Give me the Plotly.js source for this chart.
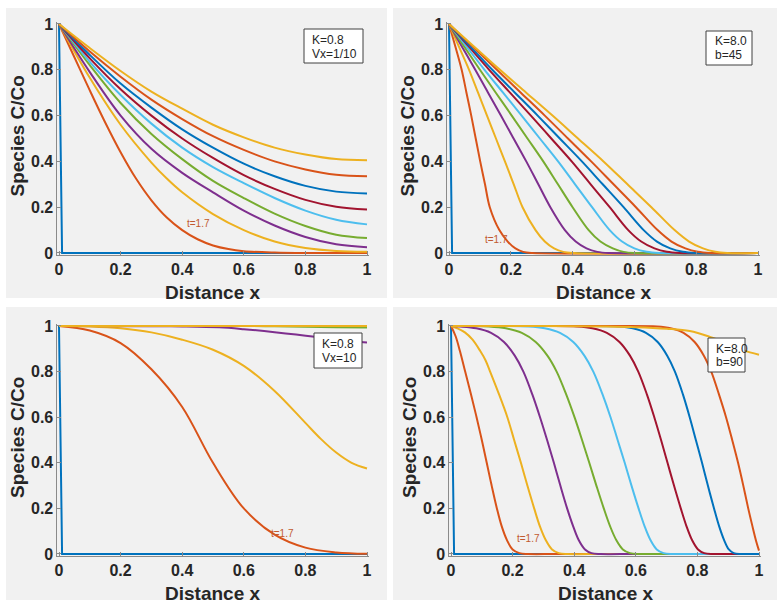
<!DOCTYPE html>
<html>
<head>
<meta charset="utf-8">
<script src="https://cdn.plot.ly/plotly-3.0.1.min.js"></script>
<style>html,body{margin:0;padding:0;background:#fff;}#chart{width:781px;height:609px;}</style>
</head>
<body>
<div id="chart"></div>
<script>
// ---------- DATA ----------
const tickVals = [0, 0.2, 0.4, 0.6, 0.8, 1];
const tickText = ['0', '0.2', '0.4', '0.6', '0.8', '1'];
const timeLabel = 't=1.7';

// Panel 1: K=0.8, Vx=1/10
const p1_x = [
  [0, 0.01, 1],
  [0, 0.05, 0.1, 0.15, 0.2, 0.25, 0.3, 0.35, 0.4, 0.45, 0.5, 0.55, 0.6, 0.7, 0.8, 1],
  [0, 0.1, 0.2, 0.3, 0.35, 0.4, 0.5, 0.6, 0.7, 0.8, 0.9, 1],
  [0, 0.1, 0.2, 0.3, 0.4, 0.5, 0.6, 0.7, 0.8, 0.9, 1],
  [0, 0.1, 0.2, 0.3, 0.4, 0.5, 0.6, 0.7, 0.8, 0.9, 1],
  [0, 0.1, 0.2, 0.3, 0.4, 0.5, 0.6, 0.7, 0.8, 0.9, 1],
  [0, 0.1, 0.2, 0.3, 0.4, 0.5, 0.6, 0.7, 0.8, 0.9, 1],
  [0, 0.1, 0.2, 0.3, 0.4, 0.5, 0.6, 0.7, 0.8, 0.9, 1],
  [0, 0.1, 0.2, 0.3, 0.4, 0.5, 0.6, 0.7, 0.8, 0.9, 1],
  [0, 0.1, 0.2, 0.3, 0.4, 0.5, 0.6, 0.7, 0.8, 0.9, 1]
];
const p1_y = [
  [1, 0, 0],
  [1, 0.855, 0.71, 0.57, 0.44, 0.325, 0.23, 0.155, 0.1, 0.06, 0.033, 0.017, 0.008, 0.002, 0, 0],
  [1, 0.765, 0.56, 0.395, 0.325, 0.265, 0.17, 0.1, 0.05, 0.022, 0.009, 0.005],
  [1, 0.79, 0.6, 0.455, 0.35, 0.265, 0.185, 0.12, 0.07, 0.038, 0.025],
  [1, 0.82, 0.655, 0.52, 0.41, 0.315, 0.24, 0.172, 0.118, 0.08, 0.065],
  [1, 0.835, 0.69, 0.565, 0.46, 0.375, 0.305, 0.24, 0.185, 0.145, 0.125],
  [1, 0.85, 0.715, 0.6, 0.5, 0.415, 0.34, 0.28, 0.232, 0.202, 0.19],
  [1, 0.865, 0.74, 0.635, 0.54, 0.46, 0.39, 0.335, 0.293, 0.268, 0.26],
  [1, 0.88, 0.77, 0.67, 0.585, 0.51, 0.45, 0.4, 0.365, 0.342, 0.335],
  [1, 0.895, 0.795, 0.705, 0.63, 0.56, 0.505, 0.46, 0.43, 0.41, 0.405]
];

// Panel 2: K=8.0, b=45  (x where each curve crosses the levels in p2_levels)
const p2_levels = [1, 0.9, 0.8, 0.7, 0.6, 0.5, 0.4, 0.3, 0.2, 0.1, 0.05, 0.02, 0.005, 0, 0];
const p2_t0_y = [1, 0, 0];
const p2_x = [
  [0, 0.01, 1],
  [0, 0.021, 0.041, 0.0565, 0.072, 0.0865, 0.101, 0.1165, 0.132, 0.163, 0.19, 0.215, 0.24, 0.27, 1],
  [0, 0.0325, 0.065, 0.094, 0.123, 0.152, 0.181, 0.2095, 0.238, 0.28, 0.31, 0.34, 0.37, 0.405, 1],
  [0, 0.0425, 0.085, 0.1265, 0.168, 0.209, 0.25, 0.289, 0.328, 0.375, 0.41, 0.445, 0.48, 0.52, 1],
  [0, 0.05, 0.1, 0.1515, 0.203, 0.254, 0.305, 0.3525, 0.4, 0.452, 0.49, 0.53, 0.565, 0.605, 1],
  [0, 0.0575, 0.115, 0.175, 0.235, 0.294, 0.353, 0.408, 0.463, 0.52, 0.56, 0.6, 0.64, 0.68, 1],
  [0, 0.065, 0.13, 0.1975, 0.265, 0.331, 0.397, 0.4585, 0.52, 0.58, 0.622, 0.665, 0.705, 0.745, 1],
  [0, 0.07, 0.14, 0.2135, 0.287, 0.3585, 0.43, 0.4975, 0.565, 0.63, 0.673, 0.716, 0.757, 0.8, 1],
  [0, 0.0775, 0.155, 0.2325, 0.31, 0.385, 0.46, 0.5325, 0.605, 0.675, 0.72, 0.765, 0.805, 0.845, 1],
  [0, 0.0825, 0.165, 0.25, 0.335, 0.4175, 0.5, 0.5775, 0.655, 0.73, 0.777, 0.822, 0.862, 0.9, 1]
];

// Panel 3: K=0.8, Vx=10
const p3_x = [
  [0, 0.01, 1],
  [0, 0.1, 0.2, 0.3, 0.4, 0.5, 0.6, 0.7, 0.8, 0.9, 1],
  [0, 0.1, 0.2, 0.3, 0.4, 0.5, 0.6, 0.7, 0.8, 0.85, 0.9, 0.95, 1],
  [0, 0.3, 0.4, 0.52, 0.6, 0.7, 0.83, 0.9, 1],
  [0, 0.6, 0.7, 0.8, 0.9, 1],
  [0, 1],
  [0, 1],
  [0, 1],
  [0, 1],
  [0, 1]
];
const p3_y = [
  [1, 0, 0],
  [1, 0.98, 0.925, 0.81, 0.645, 0.4, 0.2, 0.085, 0.028, 0.007, 0.001],
  [1, 0.998, 0.99, 0.972, 0.94, 0.896, 0.825, 0.715, 0.575, 0.505, 0.445, 0.4, 0.375],
  [1, 0.999, 0.998, 0.994, 0.986, 0.973, 0.953, 0.94, 0.928],
  [1, 1, 0.999, 0.997, 0.995, 0.993],
  [1, 1],
  [1, 1],
  [1, 1],
  [1, 1],
  [1, 1]
];

// Panel 4: K=8.0, b=90
const p4_x = [
  [0, 0.01, 1],
  [0, 0.015, 0.029, 0.046, 0.065, 0.083, 0.1, 0.116, 0.132, 0.149, 0.165, 0.182, 0.2, 0.222, 0.25, 0.35, 1],
  [0, 0.02, 0.045, 0.07, 0.095, 0.112, 0.127, 0.156, 0.183, 0.205, 0.227, 0.248, 0.27, 0.289, 0.308, 0.328, 0.35, 0.38, 0.5, 1],
  [0, 0.03, 0.082, 0.13, 0.172, 0.207, 0.235, 0.264, 0.289, 0.312, 0.334, 0.355, 0.377, 0.397, 0.415, 0.435, 0.456, 0.486, 0.6, 1],
  [0, 0.06, 0.123, 0.178, 0.23, 0.275, 0.313, 0.343, 0.374, 0.401, 0.4255, 0.449, 0.472, 0.496, 0.517, 0.537, 0.558, 0.581, 0.613, 0.7, 1],
  [0, 0.15, 0.251, 0.304, 0.354, 0.397, 0.433, 0.462, 0.492, 0.518, 0.541, 0.564, 0.586, 0.609, 0.629, 0.648, 0.668, 0.69, 0.721, 0.8, 1],
  [0, 0.3, 0.41, 0.459, 0.506, 0.547, 0.581, 0.608, 0.636, 0.66, 0.682, 0.703, 0.724, 0.746, 0.765, 0.783, 0.802, 0.822, 0.851, 0.9, 1],
  [0, 0.4, 0.544, 0.59, 0.633, 0.671, 0.702, 0.727, 0.753, 0.775, 0.795, 0.815, 0.834, 0.854, 0.871, 0.887, 0.902, 0.918, 0.94, 0.97, 1],
  [0, 0.5, 0.669, 0.713, 0.755, 0.791, 0.821, 0.845, 0.87, 0.893, 0.913, 0.932, 0.949, 0.965, 0.979, 0.991, 1],
  [0, 0.3, 0.5, 0.6, 0.7, 0.775, 0.835, 0.9, 0.95, 1]
];
const p4_y = [
  [1, 0, 0],
  [1, 0.955, 0.89, 0.8, 0.7, 0.6, 0.5, 0.4, 0.3, 0.2, 0.12, 0.06, 0.02, 0.004, 0, 0, 0],
  [1, 0.99, 0.972, 0.94, 0.89, 0.85, 0.8, 0.7, 0.6, 0.5, 0.4, 0.3, 0.2, 0.12, 0.06, 0.02, 0.004, 0, 0, 0],
  [1, 0.998, 0.99, 0.97, 0.93, 0.87, 0.8, 0.7, 0.6, 0.5, 0.4, 0.3, 0.2, 0.12, 0.06, 0.02, 0.004, 0, 0, 0],
  [1, 1, 0.998, 0.99, 0.97, 0.93, 0.87, 0.8, 0.7, 0.6, 0.5, 0.4, 0.3, 0.2, 0.12, 0.06, 0.02, 0.004, 0, 0, 0],
  [1, 1, 0.998, 0.99, 0.97, 0.93, 0.87, 0.8, 0.7, 0.6, 0.5, 0.4, 0.3, 0.2, 0.12, 0.06, 0.02, 0.004, 0, 0, 0],
  [1, 1, 0.998, 0.99, 0.97, 0.93, 0.87, 0.8, 0.7, 0.6, 0.5, 0.4, 0.3, 0.2, 0.12, 0.06, 0.02, 0.004, 0, 0, 0],
  [1, 1, 0.998, 0.99, 0.97, 0.93, 0.87, 0.8, 0.7, 0.6, 0.5, 0.4, 0.3, 0.2, 0.12, 0.06, 0.02, 0.004, 0, 0, 0],
  [1, 1, 0.998, 0.99, 0.97, 0.93, 0.87, 0.8, 0.7, 0.6, 0.5, 0.4, 0.3, 0.2, 0.12, 0.055, 0.015],
  [1, 1, 0.998, 0.995, 0.988, 0.978, 0.955, 0.92, 0.893, 0.874]
];

const panelLine1 = ['K=0.8', 'K=8.0', 'K=0.8', 'K=8.0'];
const panelLine2 = ['Vx=1/10', 'b=45', 'Vx=10', 'b=90'];

// ---------- STYLE ----------
const colors = ['#0072BD', '#D95319', '#EDB120', '#7E2F8E', '#77AC30', '#4DBEEE', '#A2142F', '#0072BD', '#D95319', '#EDB120'];
const W = 781, H = 609;
const XR = [-0.005, 1.005], YR = [-0.008, 1.008];
const geo = [
  {x0: 59, x1: 367, y1: 24, y0: 253, bg: [6, 8, 387, 298]},
  {x0: 449, x1: 758, y1: 24, y0: 253, bg: [393, 8, 777, 298]},
  {x0: 59, x1: 367, y1: 326, y0: 554, bg: [6, 307, 387, 600]},
  {x0: 451, x1: 759, y1: 326, y0: 554, bg: [393, 307, 777, 600]}
];
const boxes = [
  {r: [304, 29, 363, 63], tx: 310, ty: [40.5, 54]},
  {r: [706, 31, 752, 65], tx: 713, ty: [41.5, 55.5]},
  {r: [314, 333, 362, 368], tx: 320, ty: [344, 358]},
  {r: [708, 338, 745, 372], tx: 714, ty: [348.5, 362]}
];
const tLabelPos = [[0.452, 0.127], [0.155, 0.061], [0.727, 0.088], [0.253, 0.07]];

const px = v => v / W;
const py = v => 1 - v / H;

const allX = [p1_x, p2_x, p3_x, p4_x];
const allY = [p1_y, p2_x.map((xs, k) => k === 0 ? p2_t0_y : p2_levels), p3_y, p4_y];

const traces = [];
const layout = {
  width: W, height: H,
  margin: {l: 0, r: 0, t: 0, b: 0},
  paper_bgcolor: '#ffffff',
  plot_bgcolor: '#ffffff',
  showlegend: false,
  shapes: [], annotations: []
};

const fontFam = 'Liberation Sans, Arial, Helvetica, sans-serif';

geo.forEach((g, i) => {
  const n = i + 1;
  const xa = n === 1 ? 'x' : 'x' + n;
  const ya = n === 1 ? 'y' : 'y' + n;
  const xk = n === 1 ? 'xaxis' : 'xaxis' + n;
  const yk = n === 1 ? 'yaxis' : 'yaxis' + n;
  const sx = g.x1 - g.x0, sy = g.y0 - g.y1;
  const dl = g.x0 + XR[0] * sx, dr = g.x0 + XR[1] * sx;
  const dt = g.y0 - YR[1] * sy, db = g.y0 - YR[0] * sy;
  const axBase = {
    showgrid: false, zeroline: false, showline: true,
    linecolor: '#8a8a8a', linewidth: 1,
    ticks: 'inside', ticklen: 4, tickwidth: 1, tickcolor: '#8a8a8a',
    tickvals: tickVals, ticktext: tickText,
    tickfont: {family: fontFam, size: 16, color: '#262626', weight: 'bold'},
    fixedrange: true
  };
  layout[xk] = Object.assign({}, axBase, {domain: [px(dl), px(dr)], range: XR, anchor: ya});
  layout[yk] = Object.assign({}, axBase, {domain: [py(db), py(dt)], range: YR, anchor: xa});

  const b = g.bg;
  layout.shapes.push({
    type: 'rect', xref: 'paper', yref: 'paper', layer: 'below',
    x0: px(b[0]), x1: px(b[2]), y0: py(b[3]), y1: py(b[1]),
    fillcolor: '#f1f1f1', line: {width: 0}
  });

  allX[i].forEach((xs, k) => {
    traces.push({
      type: 'scatter', mode: 'lines', x: xs, y: allY[i][k],
      xaxis: xa, yaxis: ya, hoverinfo: 'skip',
      line: {color: colors[k], width: 2, shape: k === 0 ? 'linear' : 'spline', smoothing: 1}
    });
  });

  layout.annotations.push({
    xref: 'paper', yref: 'paper', x: px((g.x0 + g.x1) / 2), y: py(g.y0 + 39),
    text: 'Distance x', showarrow: false, xanchor: 'center', yanchor: 'middle',
    font: {family: fontFam, size: 19, color: '#262626', weight: 'bold'}
  });
  layout.annotations.push({
    xref: 'paper', yref: 'paper', x: px(g.x0 - 42), y: py((g.y0 + g.y1) / 2 - 2),
    text: 'Species C/Co', showarrow: false, textangle: -90, xanchor: 'center', yanchor: 'middle',
    font: {family: fontFam, size: 19, color: '#262626', weight: 'bold'}
  });

  const bx = boxes[i];
  layout.shapes.push({
    type: 'rect', xref: 'paper', yref: 'paper', layer: 'above',
    x0: px(bx.r[0]), x1: px(bx.r[2]), y0: py(bx.r[3]), y1: py(bx.r[1]),
    fillcolor: '#ffffff', line: {color: '#404040', width: 1}
  });
  [panelLine1[i], panelLine2[i]].forEach((t, j) => {
    layout.annotations.push({
      xref: 'paper', yref: 'paper', x: px(bx.tx), y: py(bx.ty[j]),
      xanchor: 'left', yanchor: 'middle', text: t, showarrow: false,
      font: {family: fontFam, size: 12, color: '#262626'}
    });
  });

  layout.annotations.push({
    xref: xa, yref: ya, x: tLabelPos[i][0], y: tLabelPos[i][1],
    text: timeLabel, showarrow: false, xanchor: 'center', yanchor: 'middle',
    font: {family: fontFam, size: 10, color: '#C25A30'}
  });
});

Plotly.newPlot('chart', traces, layout, {displayModeBar: false, staticPlot: true});
</script>
</body>
</html>
